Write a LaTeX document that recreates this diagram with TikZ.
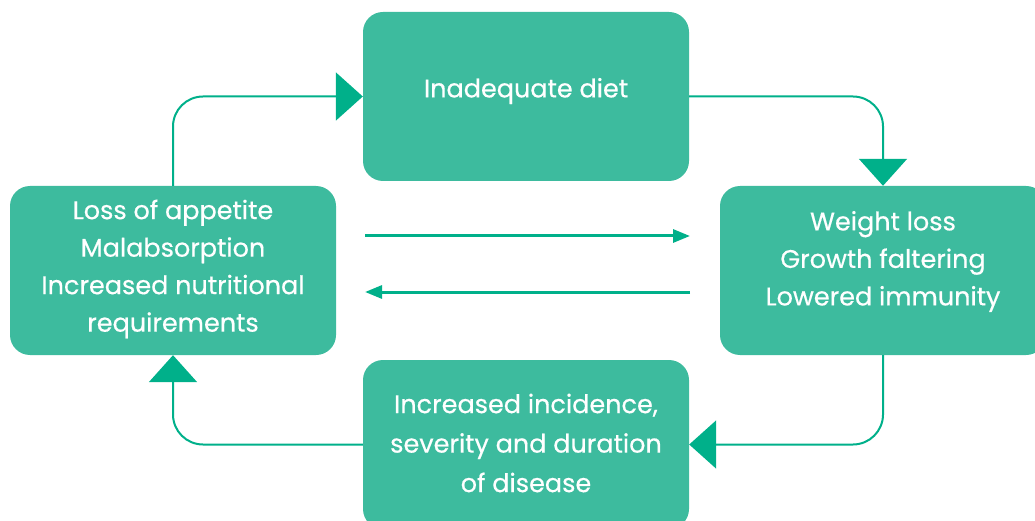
\documentclass[tikz,border=0pt]{standalone}
\usepackage{fontspec}
\setmainfont{Poppins}[FakeBold=0.5]
\usetikzlibrary{arrows.meta}
\definecolor{boxgreen}{HTML}{3DBB9E}
\definecolor{arrowgreen}{HTML}{00B08A}
\begin{document}
\begin{tikzpicture}[x=1pt,y=-1pt,
    stage/.style={fill=boxgreen,rounded corners=20pt,minimum width=326pt,
      minimum height=169pt,inner sep=0pt},
    words/.style={text=white,align=center,inner sep=0pt,
      font=\fontsize{25.5}{37.5}\selectfont},
    cycle/.style={draw=arrowgreen,line width=2pt,rounded corners=30pt,
      -{Triangle[length=27pt,width=48pt]}},
    swap/.style={draw=arrowgreen,line width=3pt,
      -{Triangle[length=17pt,width=13pt]}}]
  \clip (0,0) rectangle (1035,521);
  \useasboundingbox (0,0) rectangle (1035,521);
  % --- the four stages
  \node[stage] (diet)     at (526,96.5)  {};
  \node[stage] (appetite) at (173,270.5) {};
  \node[stage] (weight)   at (883,270.5) {};
  \node[stage] (disease)  at (526,444.5) {};
  \node[words] (dietText) at ([yshift=5.5]diet.center) {Inadequate diet};
  \node[words] (appetiteText) at ([yshift=1.5]appetite.center) {Loss of appetite\\Malabsorption\\Increased nutritional\\requirements};
  \node[words] (weightText) at ([yshift=9]weight.center) {Weight loss\\Growth faltering\\Lowered immunity};
  \node[words,font=\fontsize{25.5}{39.5}\selectfont] (diseaseText) at ([yshift=1.5]disease.center) {Increased incidence,\\severity and duration\\of disease};

  % --- the cycle round the outside
  \draw[cycle] (appetite.north) |- (diet.west);
  \draw[cycle] (diet.east) -| (weight.north);
  \draw[cycle] (weight.south) |- (disease.east);
  \draw[cycle] (disease.west) -| (appetite.south);

  % --- the two arrows in the middle
  \coordinate (fwdA) at (365,236);
  \coordinate (fwdB) at (690,236);
  \coordinate (backA) at (690,292);
  \coordinate (backB) at (365,292);
  \draw[swap] (fwdA) -- (fwdB);
  \draw[swap] (backA) -- (backB);
\end{tikzpicture}
\end{document}
